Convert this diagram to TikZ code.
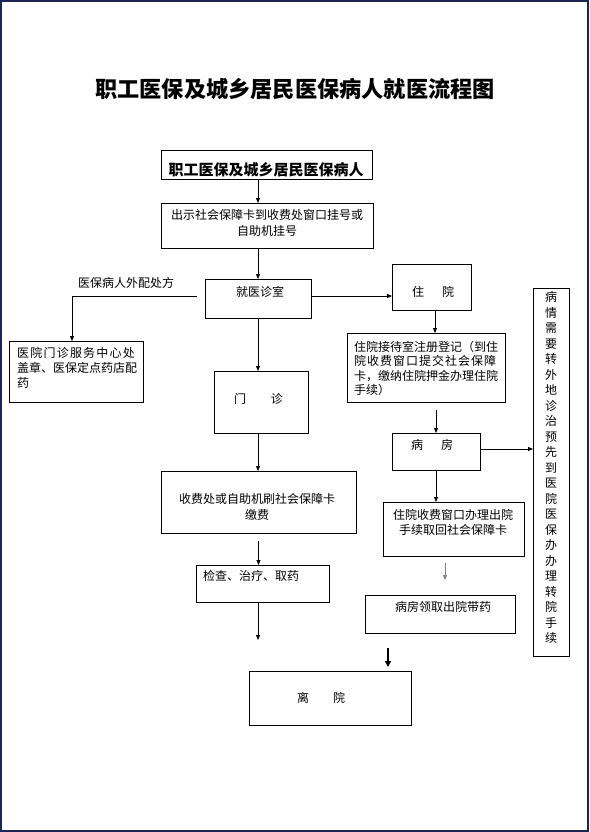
\documentclass[tikz,border=0pt]{standalone}
\usepackage{fontspec}
\newfontfamily\cjk{Noto Sans CJK SC}
\usetikzlibrary{arrows.meta}
\definecolor{frameblue}{RGB}{27,37,80}
\newcommand{\gp}{\hspace{1pt}}
\newcommand{\gq}{\hspace{1.2pt}}
\begin{document}
\begin{tikzpicture}[x=1pt,y=-1pt,
  box/.style={draw=black,line width=0.9pt,inner sep=0pt,outer sep=0pt,fill=white},
  txt/.style={inner sep=0pt,font=\cjk\fontsize{12}{15}\selectfont},
  arr/.style={line width=0.8pt,-{Triangle[length=5pt,width=4pt]}},
  grayarr/.style={line width=0.8pt,draw=gray,-{Triangle[length=5pt,width=4pt]},color=gray},
  thickarr/.style={line width=2pt,-{Triangle[length=6pt,width=6pt]}}]
\useasboundingbox (0,0) rectangle (589,832);
\fill[white] (0,0) rectangle (589,832);
\draw[frameblue,line width=2pt] (1,1) rectangle (588,831);
% title
\node[inner sep=0pt,font=\cjk\bfseries\fontsize{22.2}{26}\selectfont] (title) at (295,88.5) {职工医保及城乡居民医保病人就医流程图};
% boxes
\node[box,minimum width=211,minimum height=29] (b1) at (266.5,164.5) {};
\node[box,minimum width=212,minimum height=45] (b2) at (267,225.5) {};
\node[box,minimum width=106,minimum height=39] (b3) at (258,298.5) {};
\node[box,minimum width=134,minimum height=61] (b4) at (76,371.5) {};
\node[box,minimum width=79,minimum height=46] (zy) at (431.5,287) {};
\node[box,minimum width=158,minimum height=69] (jd) at (426,367.5) {};
\node[box,minimum width=88,minimum height=37] (bf) at (436,451.5) {};
\node[box,minimum width=36,minimum height=368] (vt) at (551,472) {};
\node[box,minimum width=141,minimum height=54] (cy) at (453.5,529) {};
\node[box,minimum width=150,minimum height=38] (dy) at (440,614) {};
\node[box,minimum width=162,minimum height=54] (ly) at (330,698) {};
\node[box,minimum width=94,minimum height=62] (mz) at (261,402) {};
\node[box,minimum width=195,minimum height=62] (jf) at (258.5,502) {};
\node[box,minimum width=133,minimum height=37] (jc) at (262.5,583.5) {};
% texts
\node[inner sep=0pt,font=\cjk\bfseries\fontsize{15}{18}\selectfont] (t1) at (266,169.5) {职工医保及城乡居民医保病人};
\node[txt,align=center,font=\cjk\fontsize{12}{16}\selectfont] (t2) at (267,223) {出示社会保障卡到收费处窗口挂号或\\自助机挂号};
\node[txt] (t3) at (260,292) {就医诊室};
\node[txt,anchor=west,align=left,font=\cjk\fontsize{12}{15}\selectfont] (t4) at (17,368) {医\gq 院\gq 门\gq 诊\gq 服\gq 务\gq 中\gq 心\gq 处\\盖章、医保定点药店配\\药};
\node[txt] (tzy) at (433,292) {住\hspace{18pt}院};
\node[txt,anchor=west,align=left,font=\cjk\fontsize{12}{14.5}\selectfont] (tjd) at (354,368.5) {住院接待室注册登记（到住\\院\gp 收\gp 费\gp 窗\gp 口\gp 提\gp 交\gp 社\gp 会\gp 保\gp 障\\卡，缴纳住院押金办理住院\\手续）};
\node[txt] (tbf) at (432,445) {病\hspace{18pt}房};
\node[txt,align=center,text width=14pt,font=\cjk\fontsize{12}{15.5}\selectfont] (tvt) at (551,467.5) {病\\情\\需\\要\\转\\外\\地\\诊\\治\\预\\先\\到\\医\\院\\医\\保\\办\\办\\理\\转\\院\\手\\续};
\node[txt,align=center] (tcy) at (453,522.5) {住院收费窗口办理出院\\手续取回社会保障卡};
\node[txt] (tdy) at (443,607) {病房领取出院带药};
\node[txt] (tly) at (321,698) {离\hspace{24pt}院};
\node[txt] (tmz) at (258.5,399) {门\hspace{25pt}诊};
\node[txt,align=center,font=\cjk\fontsize{12}{16}\selectfont] (tjf) at (257,507) {收费处或自助机刷社会保障卡\\缴费};
\node[txt] (tjc) at (251,576) {检查、治疗、取药};
\node[txt] (lab) at (126,283) {医保病人外配处方};
% connectors
\coordinate (e1) at (258,640);
\draw[arr] (b1.south -| b3.center) -- (b2.north -| b3.center);
\draw[arr] (b2.south -| b3.center) -- (b3.north);
\draw[arr] ([xshift=-8pt,yshift=2.5pt]b3.west) -| ([xshift=-4pt]b4.north);
\draw[arr] ([yshift=2.5pt]b3.east) -- ([yshift=2.5pt]b3.east -| zy.west);
\draw[arr] (b3.south) -- (b3.south |- mz.north);
\draw[arr] (mz.south -| b3.center) -- (jf.north -| b3.center);
\draw[arr] ([yshift=-8pt]jf.south) -- (jf.south |- jc.north);
\draw[arr] (jc.south -| b3.center) -- (e1);
\draw[arr] ([xshift=3.5pt]zy.south) -- ([xshift=3.5pt]zy.south |- jd.north);
\draw[arr] ([yshift=-8pt]jd.south -| bf.center) -- (bf.north);
\draw[arr] ([yshift=2.5pt]bf.east) -- ([yshift=2.5pt]bf.east -| vt.west);
\draw[arr] (bf.south) -- (bf.south |- cy.north);
\draw[grayarr] ([xshift=-8.5pt,yshift=-7pt]cy.south) -- ([xshift=5pt,yshift=15pt]dy.north);
\draw[thickarr] ([xshift=58pt,yshift=23pt]ly.north) -- ([xshift=58pt,yshift=4pt]ly.north);
\end{tikzpicture}
\end{document}
